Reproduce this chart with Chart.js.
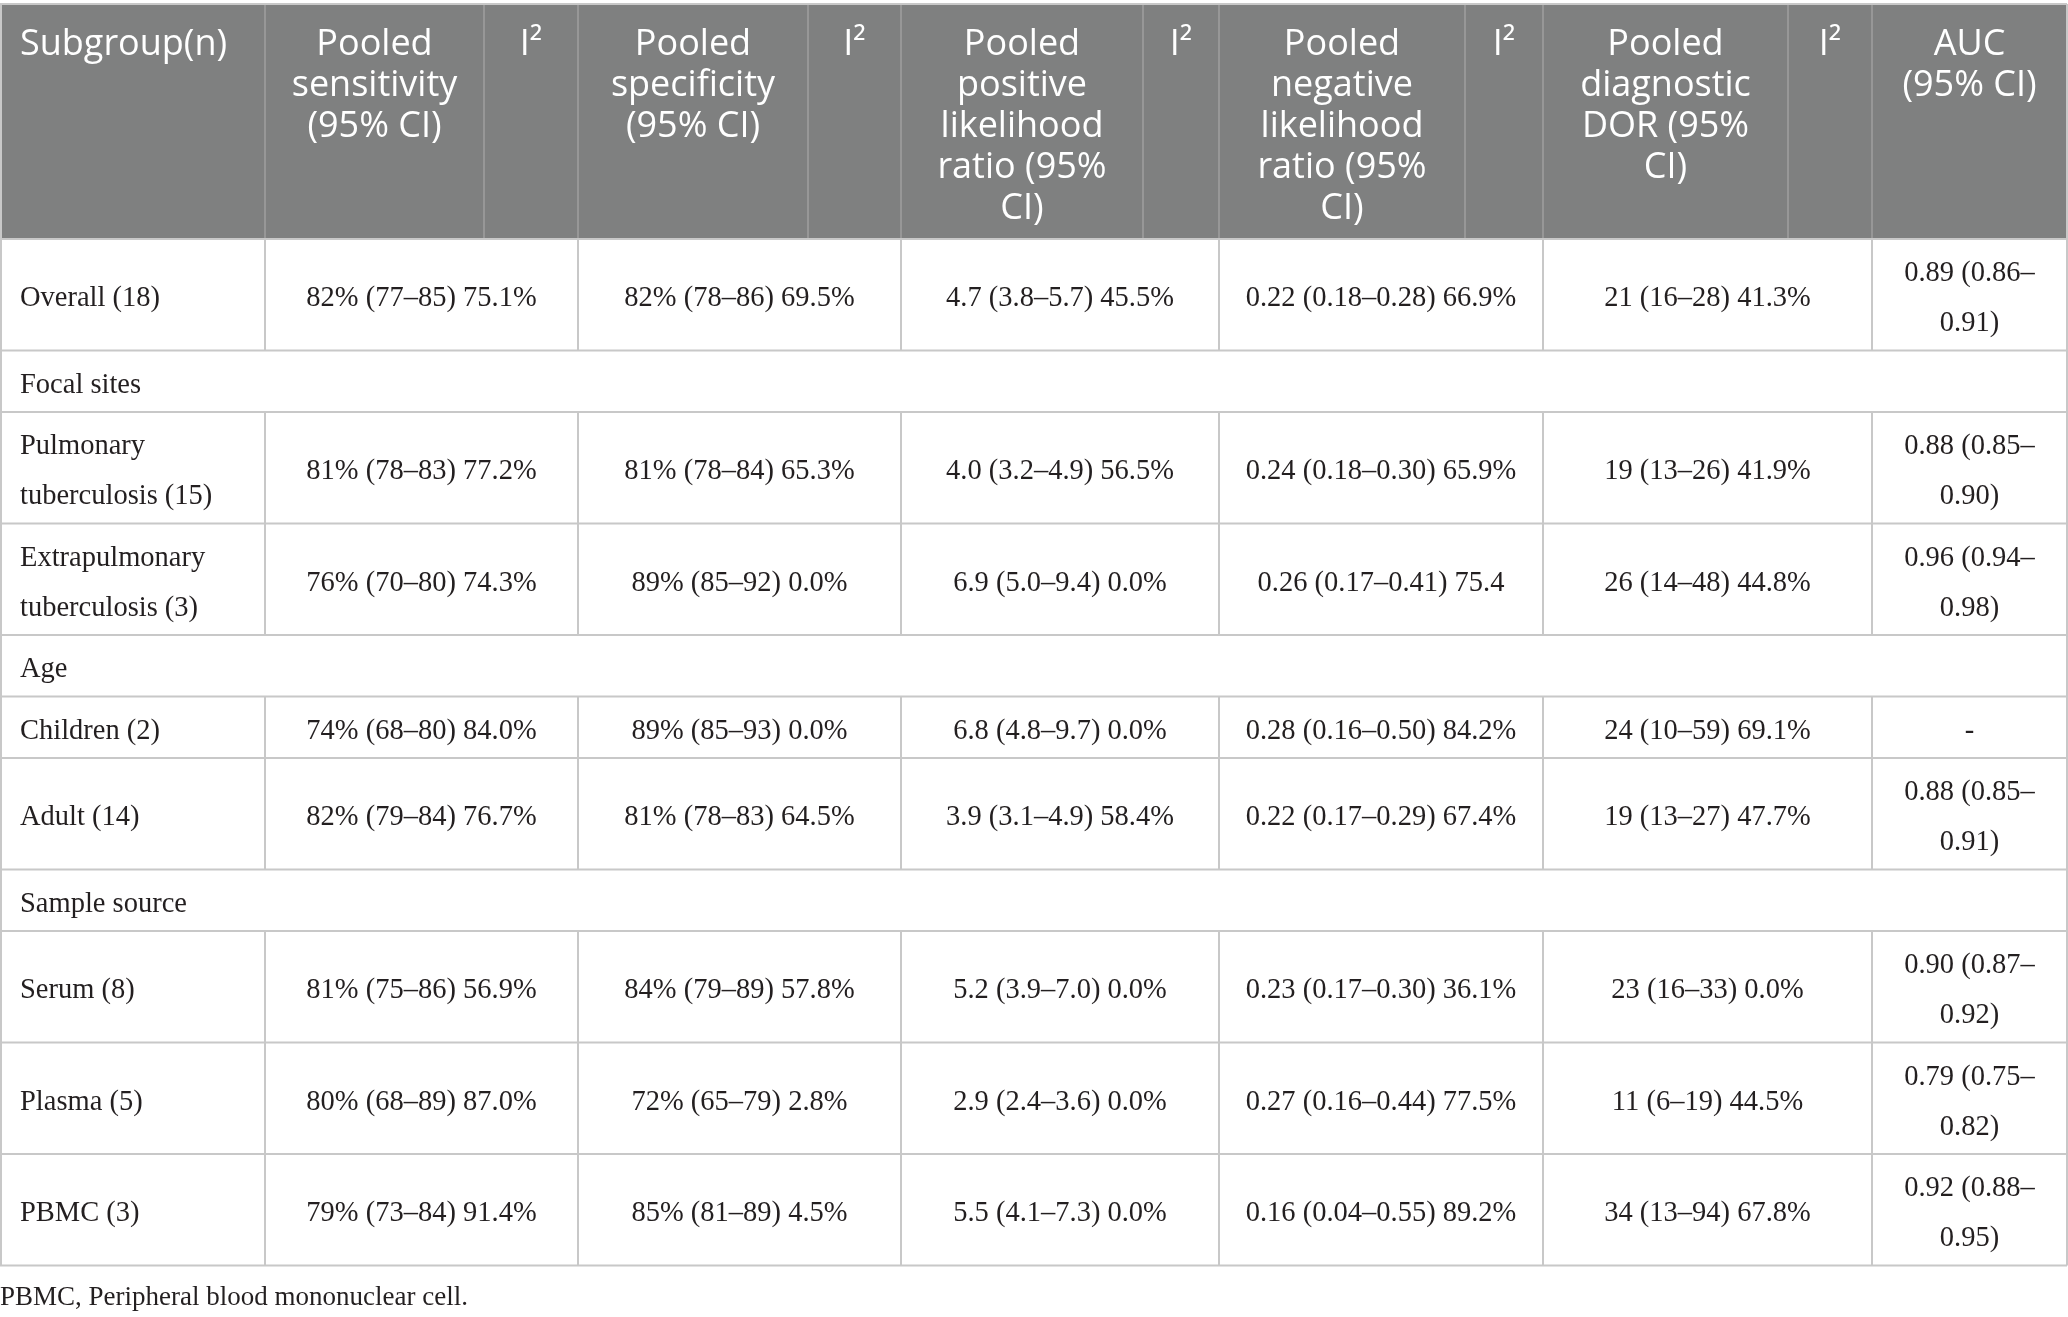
<!DOCTYPE html>
<html>
<head>
<meta charset="utf-8">
<script src="https://cdn.jsdelivr.net/npm/chart.js@4.4.1/dist/chart.umd.min.js"></script>
<style>
html, body { margin: 0; padding: 0; background: #fff; }
#wrap { width: 2068px; height: 1317px; }
</style>
</head>
<body>
<div id="wrap"><canvas id="table" width="2068" height="1317"></canvas></div>
<script>
// Table content
const headerLabels = [
    'Subgroup(n)',
    'Pooled\nsensitivity\n(95% CI)', 'I²',
    'Pooled\nspecificity\n(95% CI)', 'I²',
    'Pooled\npositive\nlikelihood\nratio (95%\nCI)', 'I²',
    'Pooled\nnegative\nlikelihood\nratio (95%\nCI)', 'I²',
    'Pooled\ndiagnostic\nDOR (95%\nCI)', 'I²',
    'AUC\n(95% CI)'
];
const subgroups = [
    'Overall (18)', 'Focal sites', 'Pulmonary tuberculosis (15)', 'Extrapulmonary tuberculosis (3)',
    'Age', 'Children (2)', 'Adult (14)', 'Sample source', 'Serum (8)', 'Plasma (5)', 'PBMC (3)'
];
const sectionRows = ['Focal sites', 'Age', 'Sample source'];
const sensitivity = ['82% (77–85) 75.1%', null, '81% (78–83) 77.2%', '76% (70–80) 74.3%', null,
    '74% (68–80) 84.0%', '82% (79–84) 76.7%', null, '81% (75–86) 56.9%', '80% (68–89) 87.0%', '79% (73–84) 91.4%'];
const specificity = ['82% (78–86) 69.5%', null, '81% (78–84) 65.3%', '89% (85–92) 0.0%', null,
    '89% (85–93) 0.0%', '81% (78–83) 64.5%', null, '84% (79–89) 57.8%', '72% (65–79) 2.8%', '85% (81–89) 4.5%'];
const positiveLR = ['4.7 (3.8–5.7) 45.5%', null, '4.0 (3.2–4.9) 56.5%', '6.9 (5.0–9.4) 0.0%', null,
    '6.8 (4.8–9.7) 0.0%', '3.9 (3.1–4.9) 58.4%', null, '5.2 (3.9–7.0) 0.0%', '2.9 (2.4–3.6) 0.0%', '5.5 (4.1–7.3) 0.0%'];
const negativeLR = ['0.22 (0.18–0.28) 66.9%', null, '0.24 (0.18–0.30) 65.9%', '0.26 (0.17–0.41) 75.4', null,
    '0.28 (0.16–0.50) 84.2%', '0.22 (0.17–0.29) 67.4%', null, '0.23 (0.17–0.30) 36.1%', '0.27 (0.16–0.44) 77.5%', '0.16 (0.04–0.55) 89.2%'];
const diagnosticOR = ['21 (16–28) 41.3%', null, '19 (13–26) 41.9%', '26 (14–48) 44.8%', null,
    '24 (10–59) 69.1%', '19 (13–27) 47.7%', null, '23 (16–33) 0.0%', '11 (6–19) 44.5%', '34 (13–94) 67.8%'];
const auc = ['0.89 (0.86–0.91)', null, '0.88 (0.85–0.90)', '0.96 (0.94–0.98)', null,
    '-', '0.88 (0.85–0.91)', null, '0.90 (0.87–0.92)', '0.79 (0.75–0.82)', '0.92 (0.88–0.95)'];
const footnote = 'PBMC, Peripheral blood mononuclear cell.';

// Layout (in scale units)
const colWidths = [265, 219, 94, 230, 93, 242, 76, 246, 78, 245, 84, 195];
const tableTop = 4;
const headerHeight = 235;
const headerPadTop = 20;
const headerLineH = 41;
const bodyLineH = 50;
const bodyPadY = 5.75;
const cellPadX = 20;
const textNudge = 4; // serif glyphs sit a little high with 'middle' baseline

const headFont = '36px "Open Sans"';
const bodyFont = '28.5px "Liberation Serif"';
const noteFont = '27px "Liberation Serif"';

const colEdges = [0];
colWidths.forEach(w => colEdges.push(colEdges[colEdges.length - 1] + w));
const tableWidth = colEdges[colEdges.length - 1];

// merged body columns: subgroup, then each value column spans value + I² column
const bodyCols = [[0, 1], [1, 3], [3, 5], [5, 7], [7, 9], [9, 11], [11, 12]];
const valueSeries = [sensitivity, specificity, positiveLR, negativeLR, diagnosticOR, auc];

function wrapText(ctx, text, maxWidth) {
    const tokens = text.split(/(?<=\s)|(?<=–)/);
    const lines = [];
    let line = '';
    tokens.forEach(t => {
        const test = line + t;
        if (line && ctx.measureText(test.trim()).width > maxWidth) {
            lines.push(line.trim());
            line = t;
        } else {
            line = test;
        }
    });
    if (line.trim()) lines.push(line.trim());
    return lines;
}

function buildRows() {
    const ctx = document.createElement('canvas').getContext('2d');
    ctx.font = bodyFont;
    let top = tableTop + headerHeight;
    return subgroups.map((name, i) => {
        const isSection = sectionRows.includes(name);
        const cells = [];
        if (isSection) {
            cells.push({ lines: [name], col: [0, 12], align: 'left' });
        } else {
            const [a, b] = bodyCols[0];
            cells.push({ lines: wrapText(ctx, name, colEdges[b] - colEdges[a] - 2 * cellPadX), col: [a, b], align: 'left' });
            valueSeries.forEach((series, k) => {
                const [c0, c1] = bodyCols[k + 1];
                cells.push({ lines: wrapText(ctx, series[i], colEdges[c1] - colEdges[c0] - 2 * cellPadX), col: [c0, c1], align: 'center' });
            });
        }
        const nLines = Math.max(...cells.map(c => c.lines.length));
        const height = nLines * bodyLineH + 2 * bodyPadY;
        const row = { top, bottom: top + height, cells, isSection };
        top += height;
        return row;
    });
}

function drawTable(chart, rows) {
    const { ctx, scales: { x, y } } = chart;
    const px = v => x.getPixelForValue(v);
    const py = v => y.getPixelForValue(v);
    const headBottom = tableTop + headerHeight;
    const tableBottom = rows[rows.length - 1].bottom;

    ctx.save();
    // header background
    ctx.fillStyle = '#7f8080';
    ctx.fillRect(px(0), py(tableTop), px(tableWidth) - px(0), py(headBottom) - py(tableTop));

    // header dividers
    ctx.strokeStyle = '#979797';
    ctx.lineWidth = 2;
    colEdges.slice(1, -1).forEach(e => {
        ctx.beginPath();
        ctx.moveTo(px(e), py(tableTop));
        ctx.lineTo(px(e), py(headBottom));
        ctx.stroke();
    });

    // header text
    ctx.fillStyle = '#ffffff';
    ctx.font = headFont;
    ctx.textBaseline = 'middle';
    headerLabels.forEach((label, i) => {
        const lines = label.split('\n');
        const isFirst = i === 0;
        ctx.textAlign = isFirst ? 'left' : 'center';
        const tx = isFirst ? px(colEdges[0] + cellPadX) : px((colEdges[i] + colEdges[i + 1]) / 2);
        lines.forEach((ln, j) => {
            ctx.fillText(ln, tx, py(tableTop + headerPadTop + headerLineH * (j + 0.5)));
        });
    });

    // body text
    ctx.fillStyle = '#231f20';
    ctx.font = bodyFont;
    rows.forEach(row => {
        const mid = (row.top + row.bottom) / 2 + textNudge;
        row.cells.forEach(cell => {
            const [c0, c1] = cell.col;
            ctx.textAlign = cell.align;
            const tx = cell.align === 'left' ? px(colEdges[c0] + cellPadX) : px((colEdges[c0] + colEdges[c1]) / 2);
            const n = cell.lines.length;
            cell.lines.forEach((ln, j) => {
                ctx.fillText(ln, tx, py(mid + (j - (n - 1) / 2) * bodyLineH));
            });
        });
    });

    // grid lines
    ctx.strokeStyle = '#c8c8c8';
    ctx.lineWidth = 2;
    const hLine = v => {
        ctx.beginPath();
        ctx.moveTo(px(0), py(v));
        ctx.lineTo(px(tableWidth), py(v));
        ctx.stroke();
    };
    hLine(tableTop);
    hLine(headBottom);
    rows.forEach(row => hLine(row.bottom));
    const vLine = (e, t, b) => {
        ctx.beginPath();
        ctx.moveTo(px(e), py(t));
        ctx.lineTo(px(e), py(b));
        ctx.stroke();
    };
    vLine(1, tableTop, tableBottom);
    vLine(tableWidth, tableTop, tableBottom);
    rows.forEach(row => {
        if (row.isSection) return;
        bodyCols.slice(1).forEach(([c0]) => vLine(colEdges[c0], row.top, row.bottom));
    });

    // footnote
    ctx.fillStyle = '#231f20';
    ctx.font = noteFont;
    ctx.textAlign = 'left';
    ctx.fillText(footnote, px(0), py(tableBottom + 28 + textNudge));
    ctx.restore();
}

async function init() {
    try {
        await Promise.all([document.fonts.load(headFont), document.fonts.load(bodyFont)]);
    } catch (e) { /* fonts are local anyway */ }
    const rows = buildRows();
    const canvas = document.getElementById('table');
    new Chart(canvas, {
        type: 'scatter',
        data: { datasets: [{ data: [], pointRadius: 0 }] },
        options: {
            responsive: false,
            devicePixelRatio: 1,
            animation: false,
            events: [],
            layout: { padding: 0 },
            plugins: { legend: { display: false }, tooltip: { enabled: false } },
            scales: {
                x: { type: 'linear', display: false, min: 0, max: 2068 },
                y: { type: 'linear', display: false, min: 0, max: 1317, reverse: true }
            }
        },
        plugins: [{ id: 'tableCells', afterDraw: chart => drawTable(chart, rows) }]
    });
}
init();
</script>
</body>
</html>
